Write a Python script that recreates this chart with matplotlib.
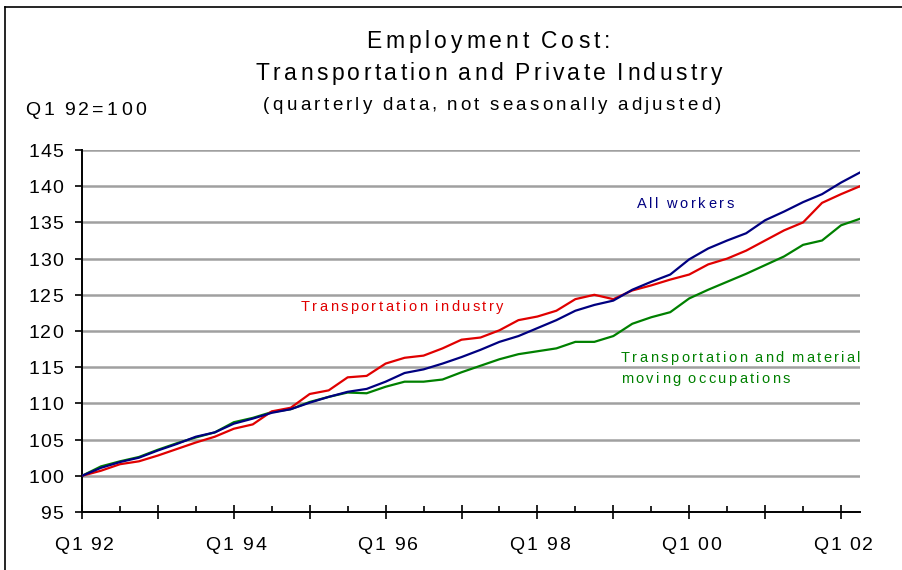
import numpy as np
import matplotlib
matplotlib.use("Agg")
import matplotlib.pyplot as plt
from matplotlib.lines import Line2D
from matplotlib.ticker import MultipleLocator
from matplotlib.font_manager import findfont, FontProperties
from matplotlib import ft2font

plt.rcParams['font.family'] = ['Liberation Sans', 'DejaVu Sans']

# Quarterly index values, Q1 1992 through Q2 2002 (Q1 92 = 100)
all_workers = [100.0, 101.1, 101.9, 102.5, 103.5, 104.4, 105.4, 106.0,
               107.2, 107.9, 108.7, 109.2, 110.1, 110.9, 111.6, 112.0,
               113.0, 114.2, 114.7, 115.5, 116.4, 117.4, 118.5, 119.3,
               120.4, 121.5, 122.8, 123.6, 124.2, 125.7, 126.8, 127.8,
               129.9, 131.4, 132.5, 133.5, 135.3, 136.5, 137.8, 138.9,
               140.5, 141.9]
transport_industry = [100.0, 100.7, 101.6, 102.0, 102.8, 103.7, 104.6, 105.4,
                      106.5, 107.1, 108.9, 109.4, 111.3, 111.8, 113.6, 113.8,
                      115.5, 116.3, 116.6, 117.6, 118.8, 119.1, 120.1, 121.5,
                      122.0, 122.8, 124.4, 125.0, 124.4, 125.6, 126.3, 127.1,
                      127.8, 129.2, 130.0, 131.1, 132.5, 133.9, 135.0, 137.7,
                      138.9, 140.0]
transport_occupations = [100.0, 101.3, 102.0, 102.6, 103.6, 104.5, 105.3, 106.0,
                         107.4, 108.0, 108.8, 109.2, 110.2, 110.9, 111.5, 111.4,
                         112.3, 113.0, 113.0, 113.3, 114.3, 115.2, 116.1, 116.8,
                         117.2, 117.6, 118.5, 118.5, 119.3, 121.0, 121.9, 122.6,
                         124.5, 125.7, 126.8, 127.9, 129.1, 130.3, 131.9, 132.5,
                         134.6, 135.5]
year_labels = ['Q1 92', 'Q1 94', 'Q1 96', 'Q1 98', 'Q1 00', 'Q1 02']
y_ticks = list(range(95, 150, 5))

W, H = 902, 570
quarters = np.arange(len(all_workers))

fig = plt.figure(figsize=(W / 100, H / 100), dpi=100)
ax = fig.add_axes([82 / W, 1 - 512 / H, 778 / W, 362 / H])

font_file = findfont(FontProperties(family='Liberation Sans'))
try:
    NO_HINT = ft2font.LoadFlags.NO_HINTING
except AttributeError:
    NO_HINT = ft2font.LOAD_NO_HINTING


def advances(s, size):
    f = ft2font.FT2Font(font_file)
    f.set_size(size, 100)
    return [f.load_char(ord(c), flags=NO_HINT).linearHoriAdvance / 65536
            for c in s]


def spaced(x, y, s, size, gap, color='black', ha='center'):
    """Draw letter-spaced text; x, y in pixels from top-left, y = baseline."""
    adv = advances(s, size)
    steps = [a + (gap * 0.4 if c == ' ' else gap) for c, a in zip(s, adv)]
    total = sum(steps) - steps[-1] + adv[-1]
    if ha == 'center':
        x0 = x - total / 2
    elif ha == 'right':
        x0 = x - total
    else:
        x0 = x
    for c, st in zip(s, steps):
        if c != ' ':
            fig.text(x0 / W, 1 - y / H, c, fontsize=size, color=color,
                     ha='left', va='baseline')
        x0 += st


def data_px(xv, yv):
    px, py = ax.transData.transform((xv, yv))
    return px, H - py


# gridlines
for v in y_ticks[1:]:
    ax.axhline(v, color='#a0a0a0', lw=1.8, zorder=1)

ax.plot(quarters, transport_occupations, color='#008000', lw=1.6, zorder=3)
ax.plot(quarters, transport_industry, color='#e00000', lw=1.6, zorder=4)
ax.plot(quarters, all_workers, color='#000080', lw=1.6, zorder=5)

ax.set_xlim(0, 41)
ax.set_ylim(95, 145)

for s in ['top', 'right']:
    ax.spines[s].set_visible(False)
for s in ['left', 'bottom']:
    ax.spines[s].set_linewidth(1.4)
    ax.spines[s].set_color('black')

ax.set_yticks(y_ticks)
ax.tick_params(axis='y', direction='out', length=5, width=1.2,
               labelleft=False)
ax.set_xticks(np.arange(0, 42, 4))
ax.xaxis.set_minor_locator(MultipleLocator(2))
ax.tick_params(axis='x', which='major', direction='inout', length=10,
               width=1.2, labelbottom=False)
ax.tick_params(axis='x', which='minor', direction='in', length=4, width=1.2)

# tick labels
for v in y_ticks:
    _, py = data_px(0, v)
    spaced(63, py + 7, str(v), 14, 1.0, ha='right')
for i, lab in enumerate(year_labels):
    px, _ = data_px(i * 8, 95)
    spaced(px + 2, 550, lab, 14, 2.2)

# titles
spaced(488, 48, 'Employment Cost:', 16.5, 4.0)
spaced(489, 80, 'Transportation and Private Industry', 16.5, 3.4)
spaced(492, 109.5, '(quarterly data, not seasonally adjusted)', 13.5, 3.3)
spaced(25, 115, 'Q1 92=100', 14, 3.2, ha='left')

# series labels
px, _ = data_px(31.8, 0)
spaced(px, 208, 'All workers', 10.5, 2.7, color='#000080')
px, _ = data_px(11.5, 0)
spaced(px, 311, 'Transportation industry', 10.5, 2.5, color='#e00000',
       ha='left')
px, _ = data_px(28.4, 0)
spaced(px, 362, 'Transportation and material', 10.5, 2.45,
       color='#008000', ha='left')
spaced(px, 383, 'moving occupations', 10.5, 2.45, color='#008000',
       ha='left')

# outer frame
fig.add_artist(Line2D([5 / W, 5 / W], [0, 1 - 7 / H],
                      transform=fig.transFigure, color='black', lw=1.2))
fig.add_artist(Line2D([5 / W, 1], [1 - 7 / H, 1 - 7 / H],
                      transform=fig.transFigure, color='black', lw=1.2))

fig.savefig('out.png', dpi=100)
